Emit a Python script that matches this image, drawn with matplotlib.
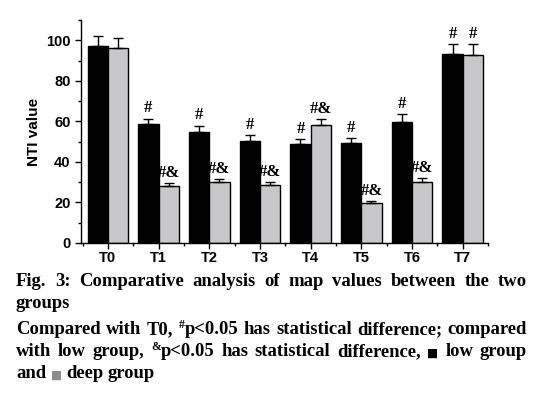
"""Grouped bar chart of NTI values (low vs deep group) with a justified caption."""

import matplotlib

matplotlib.use("Agg")
import matplotlib.pyplot as plt
import numpy as np
from matplotlib.ticker import MultipleLocator

groups = ["T0", "T1", "T2", "T3", "T4", "T5", "T6", "T7"]
low_values = [97.4, 58.5, 55.0, 50.1, 48.6, 49.1, 59.9, 93.4]
low_errors = [4.9, 2.9, 2.8, 3.0, 2.5, 2.6, 3.5, 4.6]
deep_values = [96.2, 27.9, 29.9, 28.4, 58.0, 19.5, 29.9, 92.9]
deep_errors = [4.9, 1.5, 1.5, 1.5, 3.0, 1.0, 2.0, 5.1]
low_marks = ["", "#", "#", "#", "#", "#", "#", "#"]
deep_marks = ["", "#&", "#&", "#&", "#&", "#&", "#&", "#"]

caption_lines = [
    ("justify", [[("Fig.", "k", 0)], [("3:", "k", 0)], [("Comparative", "k", 0)], [("analysis", "k", 0)],
                 [("of", "k", 0)], [("map", "k", 0)], [("values", "k", 0)], [("between", "k", 0)],
                 [("the", "k", 0)], [("two", "k", 0)]]),
    ("left", [[("groups", "k", 0)]]),
    ("justify", [[("Compared", "k", 0)], [("with", "k", 0)], [("T0,", "k", 0)],
                 [("#", "k", 1), ("p<0.05", "k", 0)], [("has", "k", 0)], [("statistical", "k", 0)],
                 [("difference;", "k", 0)], [("compared", "k", 0)]]),
    ("justify", [[("with", "k", 0)], [("low", "k", 0)], [("group,", "k", 0)],
                 [("&", "k", 1), ("p<0.05", "k", 0)], [("has", "k", 0)], [("statistical", "k", 0)],
                 [("difference,", "k", 0)], [("\u25a0", "k", 2)], [("low", "k", 0)], [("group", "k", 0)]]),
    ("left", [[("and", "k", 0)], [("\u25a0", "#8c8c8c", 2)], [("deep", "k", 0)], [("group", "k", 0)]]),
]
caption_y = [281, 304, 330, 352, 374]


def draw_caption(figure, renderer):
    width_px, height_px = figure.bbox.width, figure.bbox.height
    left, right = 16, 527
    for (mode, words), y in zip(caption_lines, caption_y):
        word_parts = []
        for word in words:
            parts = []
            for text, color, kind in word:
                size = 13.4
                family = ["Liberation Serif", "DejaVu Sans"]
                offset = 0
                if kind == 1:
                    size = 8.5
                    offset = -5
                if kind == 2:
                    size = 8.5
                    family = ["DejaVu Sans"]
                    offset = 1
                artist = figure.text(0, 1 - y / height_px, text, fontsize=size, fontweight="bold",
                                     family=family, color=color, va="center", ha="left")
                parts.append((artist, artist.get_window_extent(renderer).width, offset))
            word_parts.append(parts)
        widths = [sum(part[1] for part in parts) for parts in word_parts]
        space = 4.5
        if mode == "justify" and len(widths) > 1:
            space = (right - left - sum(widths)) / (len(widths) - 1)
        x = left
        for parts, word_width in zip(word_parts, widths):
            cursor = x
            for artist, part_width, offset in parts:
                artist.set_position((cursor / width_px, 1 - (y + offset) / height_px))
                cursor += part_width
            x += word_width + space


def main():
    plt.rcParams["font.family"] = ["Liberation Sans", "DejaVu Sans"]
    figure = plt.figure(figsize=(5.37, 3.94), dpi=100)
    axis = figure.add_axes([81 / 537, 1 - 243 / 394, (488 - 81) / 537, (243 - 20) / 394])

    positions = np.arange(len(groups))
    bar_width = 0.4
    error_style = dict(ecolor="black", elinewidth=1, capsize=3.5, capthick=1)
    axis.bar(positions - bar_width / 2, low_values, bar_width, color="black", edgecolor="black",
             linewidth=1, yerr=[np.zeros(len(groups)), low_errors], error_kw=error_style)
    axis.bar(positions + bar_width / 2, deep_values, bar_width, color="#c8c8ca", edgecolor="black",
             linewidth=1, yerr=[np.zeros(len(groups)), deep_errors], error_kw=error_style)

    for index in range(len(groups)):
        for offset, values, errors, marks in ((-bar_width / 2, low_values, low_errors, low_marks),
                                              (bar_width / 2, deep_values, deep_errors, deep_marks)):
            if marks[index]:
                axis.text(positions[index] + offset, values[index] + errors[index] + 1.2, marks[index],
                          ha="center", va="bottom", fontsize=12, fontweight="bold",
                          family="Liberation Serif")

    axis.set_xlim(-0.53, 7.5)
    axis.set_ylim(0, 110)
    axis.set_xticks(positions)
    axis.set_xticklabels(groups)
    axis.xaxis.set_minor_locator(MultipleLocator(0.5))
    axis.set_yticks(range(0, 101, 20))
    axis.yaxis.set_minor_locator(MultipleLocator(10))
    axis.tick_params(which="both", direction="out", width=1, labelsize=10.5)
    axis.tick_params(which="major", length=4)
    axis.tick_params(which="minor", length=2.5)
    axis.tick_params(axis="x", pad=2)
    for label in axis.get_xticklabels() + axis.get_yticklabels():
        label.set_fontweight("bold")
    axis.set_ylabel("NTI value", fontsize=11, fontweight="bold", labelpad=4)
    axis.spines["top"].set_visible(False)
    axis.spines["right"].set_visible(False)
    axis.spines["left"].set_linewidth(1)
    axis.spines["bottom"].set_linewidth(1)

    renderer = figure.canvas.get_renderer()
    draw_caption(figure, renderer)
    figure.savefig("out.png", dpi=100)
    plt.close(figure)


if __name__ == "__main__":
    main()
